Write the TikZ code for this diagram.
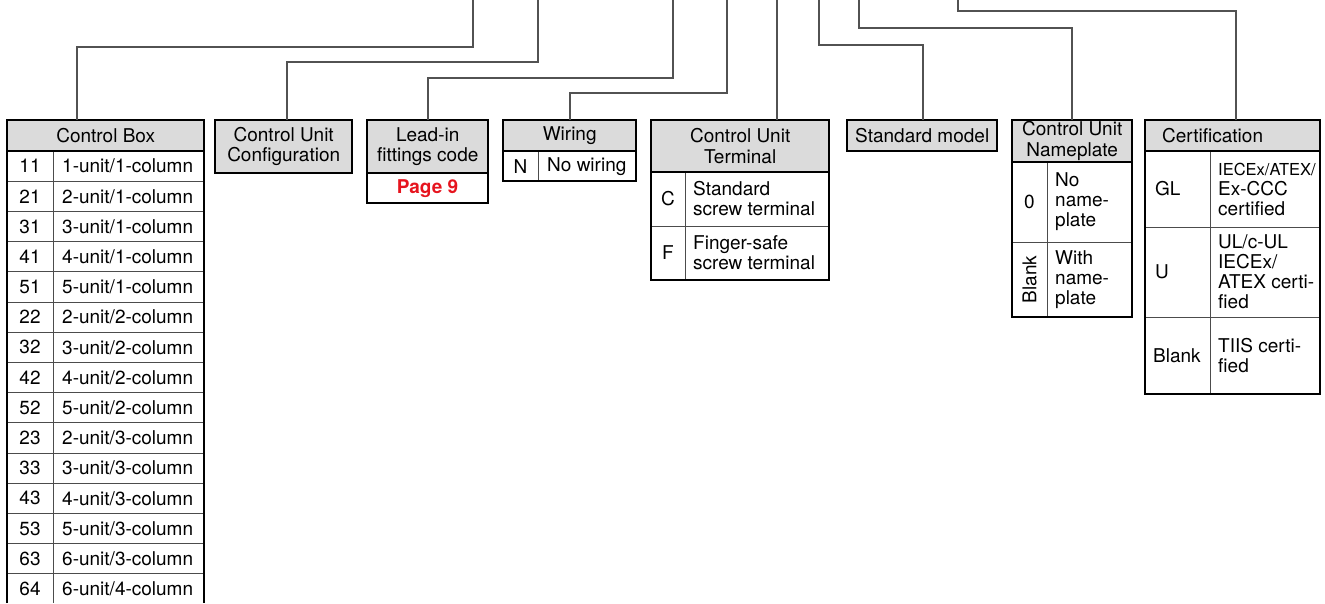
\documentclass[tikz,border=0pt]{standalone}
\usepackage{fontspec}
\setmainfont{TeX Gyre Heros}
\begin{document}
\begin{tikzpicture}[x=1pt,y=-1pt,
  frame/.style={draw=black, line width=1.8pt},
  hline/.style={draw=black, line width=1.4pt},
  grid/.style={draw=black!70, line width=0.9pt},
  conn/.style={draw=black!68, line width=1.2pt},
  hdr/.style={fill=black!14, draw=none, inner sep=0pt, align=center, font=\fontsize{19}{20.5}\selectfont},
  txt/.style={inner sep=0pt, align=center, font=\fontsize{19}{20.5}\selectfont},
  ltxt/.style={inner sep=0pt, align=left, anchor=west, font=\fontsize{19}{20}\selectfont},
  red9/.style={inner sep=0pt, text=pagered, font=\fontsize{19}{20}\selectfont\bfseries}
]
\definecolor{pagered}{RGB}{230,20,30}
\useasboundingbox (0,0) rectangle (1325,603);

% ---------------- Control Box ----------------
\node[hdr, minimum width=197pt, minimum height=31pt, anchor=north west] (cbh) at (7,120) {Control Box};
\foreach \i in {1,...,14}{\draw[grid] (7,151+30.2*\i) -- (204,151+30.2*\i);}
\draw[grid] (53,151) -- (53,603);
\draw[hline] (7,151) -- (204,151);
\draw[frame] (7,603) -- (7,120) -- (204,120) -- (204,603);
\foreach \a/\b [count=\i from 0] in {1/1,2/1,3/1,4/1,5/1,2/2,3/2,4/2,5/2,2/3,3/3,4/3,5/3,6/3,6/4}{
  \node[txt] (cbc\i) at (30,151+30.2*\i+15.1) {\a\b};
  \node[ltxt] (cbd\i) at (62,151+30.2*\i+15.1) {\a-unit/\b-column};
}

% ---------------- Control Unit Configuration ----------------
\node[hdr, minimum width=137pt, minimum height=53pt, anchor=north west] (cfh) at (215,120) {Control Unit\\Configuration};
\draw[frame] (215,120) rectangle (352,173);

% ---------------- Lead-in fittings code ----------------
\node[hdr, minimum width=121pt, minimum height=53pt, anchor=north west] (lih) at (367,120) {Lead-in\\fittings code};
\draw[hline] (367,173) -- (488,173);
\draw[frame] (367,120) rectangle (488,203);
\node[red9] (lip) at (427.5,188.5) {Page 9};

% ---------------- Wiring ----------------
\node[hdr, minimum width=133pt, minimum height=31pt, anchor=north west] (wih) at (503,120) {Wiring};
\draw[grid] (538,151) -- (538,181);
\draw[hline] (503,151) -- (636,151);
\draw[frame] (503,120) rectangle (636,181);
\node[txt] (wic) at (520.5,166.5) {N};
\node[ltxt] (wid) at (547,166.5) {No wiring};

% ---------------- Control Unit Terminal ----------------
\node[hdr, minimum width=178pt, minimum height=52pt, anchor=north west] (teh) at (651,120) {Control Unit\\Terminal};
\draw[grid] (651,226) -- (829,226);
\draw[grid] (685,172) -- (685,280);
\draw[hline] (651,172) -- (829,172);
\draw[frame] (651,120) rectangle (829,280);
\node[txt] (tec1) at (668,199) {C};
\node[ltxt] (ted1) at (693,199) {Standard\\screw terminal};
\node[txt] (tec2) at (668,253) {F};
\node[ltxt] (ted2) at (693,253) {Finger-safe\\screw terminal};

% ---------------- Standard model ----------------
\node[hdr, minimum width=150pt, minimum height=31pt, anchor=north west] (smh) at (847,120) {Standard model};
\draw[frame] (847,120) rectangle (997,151);

% ---------------- Control Unit Nameplate ----------------
\node[hdr, minimum width=120pt, minimum height=42pt, anchor=north west] (nph) at (1012,120) {Control Unit\\Nameplate};
\draw[grid] (1012,242) -- (1132,242);
\draw[grid] (1047,162) -- (1047,317);
\draw[hline] (1012,162) -- (1132,162);
\draw[frame] (1012,120) rectangle (1132,317);
\node[txt] (npc1) at (1029.5,202) {0};
\node[ltxt] (npd1) at (1055,202) {No\\name-\\plate};
\node[txt, rotate=90] (npc2) at (1029.5,279.5) {Blank};
\node[ltxt] (npd2) at (1055,279.5) {With\\name-\\plate};

% ---------------- Certification ----------------
\node[hdr, minimum width=175pt, minimum height=31pt, anchor=north west, align=left, text width=141pt, inner xsep=17pt] (ceh) at (1145,120) {Certification};
\draw[grid] (1145,227) -- (1320,227);
\draw[grid] (1145,317) -- (1320,317);
\draw[grid] (1210,151) -- (1210,394);
\draw[hline] (1145,151) -- (1320,151);
\draw[frame] (1145,120) rectangle (1320,394);
\node[ltxt] (cec1) at (1155,189) {GL};
\node[ltxt] (ced1) at (1218,189) {{\fontsize{16.5}{20}\selectfont IECEx/ATEX/}\\Ex-CCC\\certified};
\node[ltxt] (cec2) at (1155,272) {U};
\node[ltxt] (ced2) at (1218,272) {UL/c-UL\\IECEx/\\ATEX certi-\\fied};
\node[ltxt] (cec3) at (1153,355.5) {Blank};
\node[ltxt] (ced3) at (1218,355.5) {TIIS certi-\\fied};

% ---------------- Connectors ----------------
\coordinate (t1) at (473,0);  \coordinate (k1) at (77,47);
\coordinate (t2) at (538,0);  \coordinate (k2) at (287,62);
\coordinate (t3) at (673,0);  \coordinate (k3) at (428,78);
\coordinate (t4) at (727,0);  \coordinate (k4) at (570,93);
\coordinate (t5) at (777,0);
\coordinate (t6) at (819,0);  \coordinate (k6) at (923,45);
\coordinate (t7) at (859,0);  \coordinate (k7) at (1072,28);
\coordinate (t8) at (958,0);  \coordinate (k8) at (1236,11);
\draw[conn] (t1) |- (k1) -- (k1 |- cbh.north);
\draw[conn] (t2) |- (k2) -- (k2 |- cfh.north);
\draw[conn] (t3) |- (k3) -- (k3 |- lih.north);
\draw[conn] (t4) |- (k4) -- (k4 |- wih.north);
\draw[conn] (t5) -- (t5 |- teh.north);
\draw[conn] (t6) |- (k6) -- (k6 |- smh.north);
\draw[conn] (t7) |- (k7) -- (k7 |- nph.north);
\draw[conn] (t8) |- (k8) -- (k8 |- ceh.north);
\end{tikzpicture}
\end{document}
